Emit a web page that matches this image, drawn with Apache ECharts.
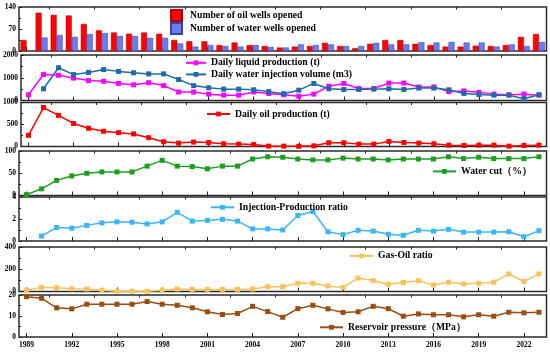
<!DOCTYPE html>
<html><head><meta charset="utf-8">
<script src="https://cdn.jsdelivr.net/npm/echarts@6/dist/echarts.min.js"></script>
<style>html,body{margin:0;padding:0;background:#fff}#c{width:550px;height:353px}</style>
</head><body><div id="c"></div>
<script>
const years = [1989,1990,1991,1992,1993,1994,1995,1996,1997,1998,1999,2000,2001,2002,2003,2004,2005,2006,2007,2008,2009,2010,2011,2012,2013,2014,2015,2016,2017,2018,2019,2020,2021,2022,2023];
const oilWells   = [35,122,115,113,86,66,59,55,59,55,35,31,31,19,27,19,16,11,14,16,26,16,9,23,35,35,23,19,14,14,17,16,19,45,54];
const waterWells = [null,43,51,45,54,57,48,48,42,42,24,14,19,16,14,19,13,11,21,19,21,16,16,26,21,21,28,27,29,27,27,14,21,16,29];
const liquidProd = [250,1140,1110,985,875,845,750,690,780,655,375,375,280,235,235,375,310,250,190,280,625,750,530,530,765,765,595,595,390,420,360,280,250,280,235];
const waterInj   = [null,515,1440,1140,1235,1360,1280,1220,1170,1170,920,655,560,500,500,470,390,300,455,750,515,485,485,500,515,485,545,545,470,310,265,235,235,80,250];
const oilProd    = [254,885,708,523,415,346,315,285,200,108,77,100,92,62,54,46,8,8,5,15,85,85,54,54,115,92,77,62,31,23,31,31,8,23,31];
const waterCut   = [2,15,34,44,50,53,53,53,66,79,66,65,60,66,66,82,87,86,82,80,80,84,82,82,80,82,82,82,87,83,86,83,83,83,87];
const ipRatio    = [null,0.45,1.23,1.16,1.42,1.65,1.74,1.71,1.55,1.74,2.61,1.81,1.87,1.97,1.81,1.10,1.10,1.0,2.32,2.68,0.84,0.58,0.97,0.90,0.61,0.52,0.97,0.90,1.06,0.81,0.81,0.81,0.84,0.39,0.94];
const gasOil     = [12,37,34,25,22,12,3,3,2,12,22,19,19,19,19,22,43,43,74,74,50,37,121,99,65,81,96,59,84,68,74,84,158,90,158];
const resPress   = [19.2,18.4,13.9,13.4,15.6,15.6,15.6,15.6,16.9,15.6,15.1,13.9,12.0,10.7,11.2,14.6,12.1,9.4,13.5,15.1,13.4,11.7,12.0,14.6,13.5,9.9,11.0,10.6,10.6,9.6,10.6,9.9,11.8,11.5,11.8];
const yMax = [140,2000,1000,100,4,400,20];

const FONT = 'Liberation Serif';
const gridBox = [[7,51],[55,100.5],[102.5,146.5],[151,195.5],[197,241],[247,291.5],[295,337]];
const grid = [], xAxis = [], yAxis = [];
gridBox.forEach((b,k)=>{
  grid.push({left:19,right:3.5,top:b[0],height:b[1]-b[0],show:true,borderColor:'#2b2b2b',borderWidth:1.5,backgroundColor:'transparent'});
  const last = k===gridBox.length-1;
  xAxis.push({type:'category',gridIndex:k,data:years,boundaryGap:true,
    axisLine:{show:false},
    axisTick:{show:true,inside:true,alignWithLabel:true,length:4,interval:(i)=>i%3===0,lineStyle:{color:'#222',width:1}},
    axisLabel:{show:last,interval:(i)=>i%3===0,fontFamily:FONT,fontWeight:'bold',fontSize:7.5,color:'#000',margin:4},
    splitLine:{show:false}});
  xAxis.push({type:'category',gridIndex:k,data:years,boundaryGap:true,
    axisLine:{show:false},
    axisTick:{show:true,inside:true,length:2.5,interval:(i)=>i%3===2,lineStyle:{color:'#222',width:1}},
    axisLabel:{show:false},splitLine:{show:false}});
  yAxis.push({type:'value',gridIndex:k,min:0,max:yMax[k],interval:yMax[k]/2,
    axisLine:{show:false},
    axisTick:{show:true,inside:true,length:3,lineStyle:{color:'#222'}},
    minorTick:{show:true,splitNumber:2,length:2,lineStyle:{color:'#222'}},
    splitLine:{show:false},
    axisLabel:{fontFamily:FONT,fontWeight:'bold',fontSize:7.5,color:'#000',margin:3,formatter:(v)=>String(v)}});
});

function line(name,data,k,color){
  return {type:'line',name,data,xAxisIndex:2*k,yAxisIndex:k,symbol:'rect',symbolSize:5,
    lineStyle:{color,width:1.5},itemStyle:{color},connectNulls:false,animation:false};
}
const series = [
  {type:'bar',name:'Number of oil wells opened',data:oilWells,xAxisIndex:0,yAxisIndex:0,barWidth:6,barGap:'0%',
    itemStyle:{color:'#ff0000',borderColor:'#b00000',borderWidth:0.5},animation:false},
  {type:'bar',name:'Number of water wells opened',data:waterWells,xAxisIndex:0,yAxisIndex:0,barWidth:6,barGap:'0%',
    itemStyle:{color:'#6b7cf0',borderColor:'#3344aa',borderWidth:0.5},animation:false},
  line('Daily liquid production (t)',liquidProd,1,'#ff00ff'),
  line('Daily water injection volume (m3)',waterInj,1,'#1f6aa8'),
  line('Daily oil production (t)',oilProd,2,'#ff0000'),
  line('Water cut（%）',waterCut,3,'#1e9e1e'),
  line('Injection-Production ratio',ipRatio,4,'#3db5f5'),
  line('Gas-Oil ratio',gasOil,5,'#f6c35a'),
  line('Reservoir pressure（MPa）',resPress,6,'#9c4d12')
];
const legPos = [
  ['Number of oil wells opened',170,15,11,11],
  ['Number of water wells opened',170,28,11,11],
  ['Daily liquid production (t)',185,62.8,20,6],
  ['Daily water injection volume (m3)',185,74.4,20,6],
  ['Daily oil production (t)',206,114,23,6],
  ['Water cut（%）',432,171.4,23,6],
  ['Injection-Production ratio',210,207.3,23,6],
  ['Gas-Oil ratio',349,255.9,23,6],
  ['Reservoir pressure（MPa）',319,327.3,23,6]
];
const legend = legPos.map(p=>({data:[{name:p[0],icon:p[3]===11?'rect':undefined}],left:p[1],top:p[2]-6,padding:0,itemWidth:p[3],itemHeight:p[4],itemGap:0,
  textStyle:{fontFamily:FONT,fontWeight:'bold',fontSize:9.7,color:'#000',lineHeight:12,padding:[0,0,0,p[3]===11?3:0]}}));

const chart = echarts.init(document.getElementById('c'),null,{renderer:'canvas'});
chart.setOption({backgroundColor:'#fff',animation:false,grid,xAxis,yAxis,series,legend});
</script></body></html>
